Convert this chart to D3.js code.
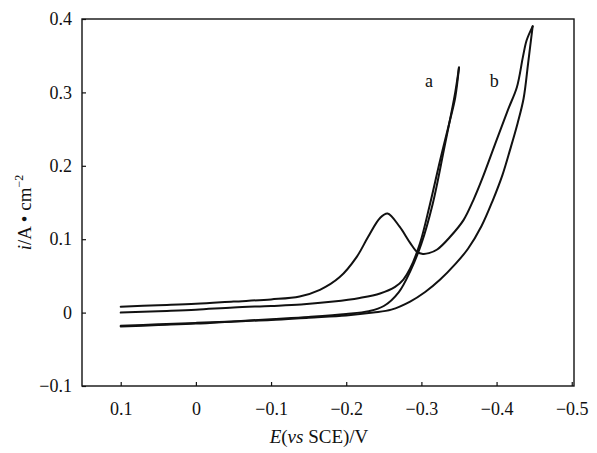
<!DOCTYPE html>
<html>
<head>
<meta charset="utf-8">
<script src="https://cdn.jsdelivr.net/npm/d3@7"></script>
<style>
  html, body { margin: 0; padding: 0; background: #fff; }
  svg { display: block; }
  text { font-family: "Liberation Serif", "Times New Roman", serif; fill: #111; }
</style>
</head>
<body>
<svg id="chart" width="597" height="453"></svg>
<script>
// ---------- data ----------
const xTicks = [0.1, 0, -0.1, -0.2, -0.3, -0.4, -0.5];
const xTickLabels = ["0.1", "0", "\u22120.1", "\u22120.2", "\u22120.3", "\u22120.4", "\u22120.5"];
const yTicks = [0.4, 0.3, 0.2, 0.1, 0, -0.1];
const yTickLabels = ["0.4", "0.3", "0.2", "0.1", "0", "\u22120.1"];

// curve a : cathodic (forward) branch
const aFwdE = [0.1, 0.05, 0, -0.05, -0.1, -0.15, -0.2, -0.23, -0.25, -0.27, -0.285, -0.3, -0.315, -0.33, -0.345, -0.35];
const aFwdI = [-0.019, -0.017, -0.015, -0.012, -0.009, -0.006, -0.002, 0.002, 0.009, 0.028, 0.056, 0.094, 0.148, 0.222, 0.300, 0.334];
// curve a : return branch
const aRevE = [-0.35, -0.345, -0.338, -0.325, -0.311, -0.298, -0.285, -0.276, -0.265, -0.245, -0.218, -0.183, -0.14, -0.1, -0.05, 0, 0.05, 0.1];
const aRevI = [0.334, 0.293, 0.262, 0.208, 0.146, 0.094, 0.060, 0.045, 0.035, 0.026, 0.020, 0.015, 0.011, 0.009, 0.007, 0.004, 0.002, 0.000];

// curve b : cathodic (forward) branch
const bFwdE = [0.1, 0.05, 0, -0.05, -0.1, -0.15, -0.2, -0.236, -0.26, -0.285, -0.305, -0.325, -0.345, -0.362, -0.38, -0.395, -0.408, -0.418, -0.428, -0.436, -0.442, -0.448];
const bFwdI = [-0.018, -0.016, -0.014, -0.012, -0.010, -0.007, -0.004, 0.000, 0.004, 0.015, 0.028, 0.045, 0.066, 0.087, 0.118, 0.153, 0.188, 0.222, 0.258, 0.292, 0.340, 0.390];
// curve b : return branch (with the oxidation peak)
const bRevE = [-0.448, -0.44, -0.435, -0.427, -0.415, -0.4, -0.38, -0.369, -0.356, -0.338, -0.321, -0.31, -0.302, -0.295, -0.285, -0.271, -0.255, -0.245, -0.229, -0.214, -0.191, -0.165, -0.138, -0.1, -0.05, 0, 0.05, 0.1];
const bRevI = [0.390, 0.371, 0.348, 0.307, 0.276, 0.235, 0.180, 0.153, 0.126, 0.103, 0.086, 0.081, 0.080, 0.082, 0.095, 0.117, 0.135, 0.129, 0.103, 0.076, 0.048, 0.031, 0.022, 0.018, 0.015, 0.012, 0.010, 0.008];

const curveLabels = ["a", "b"];
const curveLabelE = [-0.31, -0.397];
const curveLabelI = [0.307, 0.307];

// ---------- layout ----------
const margin = { left: 82, right: 23, top: 19, bottom: 67 };
const W = 597, H = 453;
const svg = d3.select("#chart");

const x = d3.scaleLinear().domain([0.1515, -0.503]).range([margin.left, W - margin.right]);
const y = d3.scaleLinear().domain([-0.1, 0.4]).range([H - margin.bottom, margin.top]);

// frame
svg.append("rect")
  .attr("x", x.range()[0]).attr("y", y.range()[1])
  .attr("width", x.range()[1] - x.range()[0])
  .attr("height", y.range()[0] - y.range()[1])
  .attr("fill", "none").attr("stroke", "#111").attr("stroke-width", 1.4);

// axes with inward ticks
const xAxis = d3.axisBottom(x).tickValues(xTicks)
  .tickFormat((d, i) => xTickLabels[i]).tickSizeInner(-4).tickSizeOuter(0).tickPadding(16);
const gx = svg.append("g").attr("transform", `translate(0,${y.range()[0]})`).call(xAxis);
gx.select(".domain").remove();
gx.selectAll("line").attr("stroke", "#111").attr("stroke-width", 1.2);
gx.selectAll("text").attr("font-size", 18).attr("fill", "#111")
  .style("font-family", '"Liberation Serif", serif');

const yAxis = d3.axisLeft(y).tickValues(yTicks)
  .tickFormat((d, i) => yTickLabels[i]).tickSizeInner(-4).tickSizeOuter(0).tickPadding(10);
const gy = svg.append("g").attr("transform", `translate(${x.range()[0]},0)`).call(yAxis);
gy.select(".domain").remove();
gy.selectAll("line").attr("stroke", "#111").attr("stroke-width", 1.2);
gy.selectAll("text").attr("font-size", 18).attr("fill", "#111")
  .style("font-family", '"Liberation Serif", serif');

// curves
const line = d3.line()
  .x(d => x(d[0])).y(d => y(d[1]))
  .curve(d3.curveCatmullRom.alpha(0.5));
const zip = (E, I) => E.map((e, i) => [e, I[i]]);
const branches = [zip(aFwdE, aFwdI), zip(aRevE, aRevI), zip(bFwdE, bFwdI), zip(bRevE, bRevI)];
svg.append("g").selectAll("path").data(branches).join("path")
  .attr("d", line).attr("fill", "none")
  .attr("stroke", "#111").attr("stroke-width", 2)
  .attr("stroke-linejoin", "round").attr("stroke-linecap", "round");

// curve labels
svg.append("g").selectAll("text").data(curveLabels).join("text")
  .attr("x", (d, i) => x(curveLabelE[i])).attr("y", (d, i) => y(curveLabelI[i]))
  .attr("text-anchor", "middle").attr("font-size", 18).text(d => d);

// x title
const xt = svg.append("text")
  .attr("x", (x.range()[0] + x.range()[1]) / 2 - 9).attr("y", 443)
  .attr("text-anchor", "middle").attr("font-size", 19);
xt.append("tspan").attr("font-style", "italic").text("E");
xt.append("tspan").text("(");
xt.append("tspan").attr("font-style", "italic").text("vs");
xt.append("tspan").text(" SCE)/V");

// y title
const yt = svg.append("text")
  .attr("transform", `translate(31,${(y.range()[0] + y.range()[1]) / 2 + 10}) rotate(-90)`)
  .attr("text-anchor", "middle").attr("font-size", 19);
yt.append("tspan").attr("font-style", "italic").text("i");
yt.append("tspan").text("/A \u2022 cm");
yt.append("tspan").attr("font-size", 12).attr("dy", -8).text("\u22122");
</script>
</body>
</html>
